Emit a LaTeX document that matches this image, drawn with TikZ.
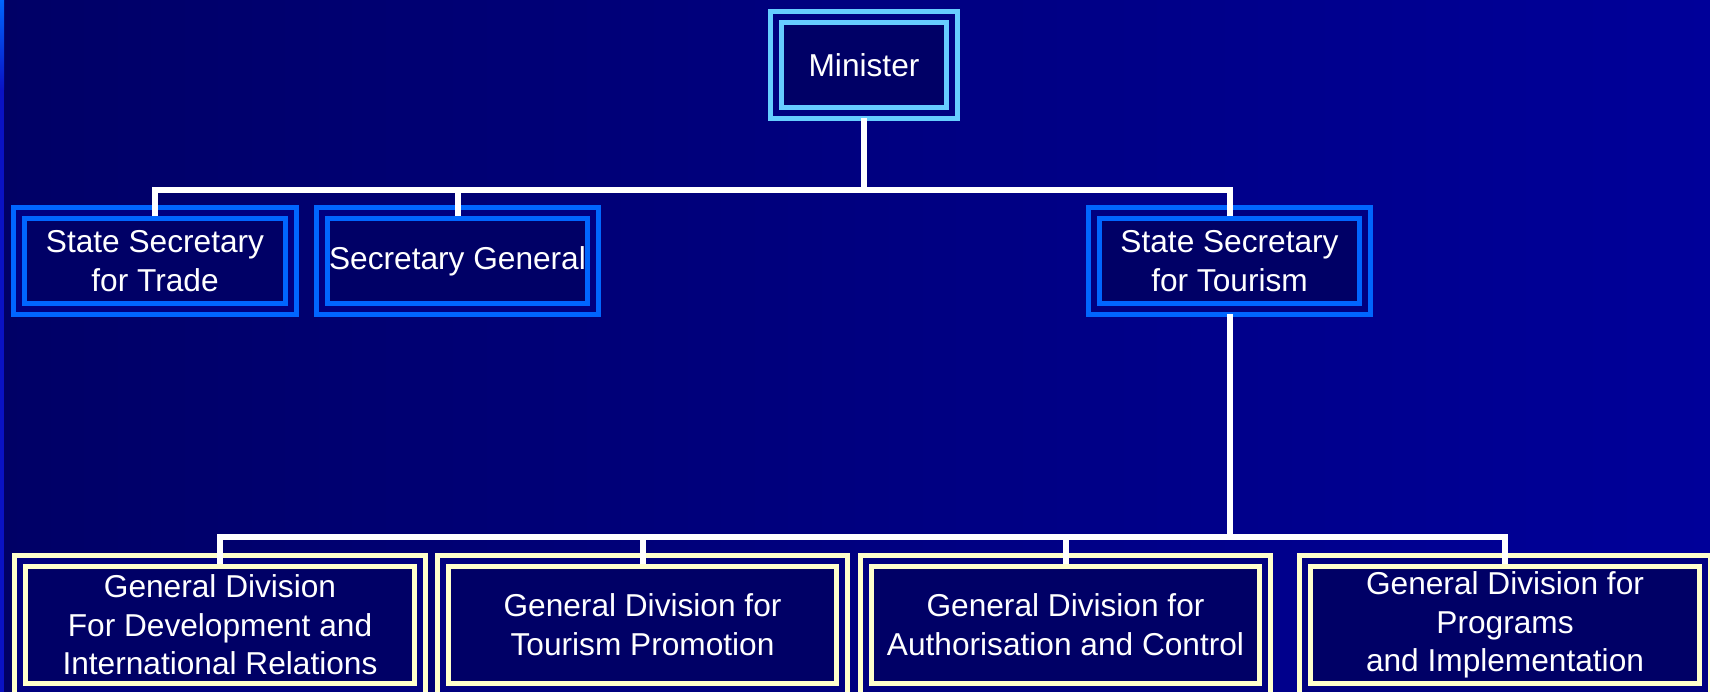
\documentclass[tikz,border=0pt]{standalone}
\usepackage{fontspec}
\setmainfont{Liberation Sans}
\definecolor{bgleft}{HTML}{000066}
\definecolor{bgright}{HTML}{000099}
\definecolor{boxfill}{HTML}{000066}
\definecolor{gapblue}{HTML}{000080}
\definecolor{skyline}{HTML}{66CCFF}
\definecolor{secline}{HTML}{0066FF}
\definecolor{divline}{HTML}{FFFFCC}
\definecolor{edgetop}{HTML}{0066FF}
\definecolor{edgelow}{HTML}{0A12C4}

\begin{document}
\begin{tikzpicture}[x=0.01cm, y=-0.01cm,
    unit/.style={draw, double=gapblue, line width=0.05cm, double distance=0.06cm,
      fill=boxfill, text=white, align=center, inner sep=0pt, outer sep=0.08cm,
      font=\fontsize{9}{11}\selectfont},
    ministerbox/.style={unit, draw=skyline, minimum width=1.75cm, minimum height=0.96cm},
    secbox/.style={unit, draw=secline, minimum width=2.71cm, minimum height=0.96cm},
    divbox/.style={unit, draw=divline, minimum width=3.99cm, minimum height=1.28cm},
    link/.style={draw=white, line width=0.06cm, line cap=rect},
    drop/.style={link, shorten >=-0.08cm}]
    \shade[left color=bgleft, right color=bgright] (0,0) rectangle (1710,692);
    \useasboundingbox (0,0) rectangle (1710,692);
    \shade[top color=edgetop, bottom color=edgelow] (0,0) rectangle (4,90);
    \fill[edgelow] (0,90) rectangle (4,692);

    \node[ministerbox] (minister) at (864,65) {Minister};
    \node[secbox] (trade) at (155,261) {State Secretary\\for Trade};
    \node[secbox] (secgen) at (457.5,261) {Secretary General};
    \node[secbox] (tourism) at (1229.5,261) {State Secretary\\for Tourism};
    \node[divbox] (devrel) at (220,625) {General Division\\For Development and\\International Relations};
    \node[divbox] (promo) at (642.5,625) {General Division for\\Tourism Promotion};
    \node[divbox] (control) at (1065.5,625) {General Division for\\Authorisation and Control};
    \node[divbox] (progs) at (1505,625) {General Division for\\Programs\\and Implementation};

    \coordinate (topbus) at (0,190);
    \coordinate (lowbus) at (0,537);
    \draw[link] (minister.south) -- (minister.south |- topbus);
    \draw[link] (trade.north |- topbus) -- (tourism.north |- topbus);
    \foreach \n in {trade,secgen,tourism}
        \draw[drop] (\n.north |- topbus) -- (\n.north);
    \draw[link] (tourism.south) -- (tourism.south |- lowbus);
    \draw[link] (devrel.north |- lowbus) -- (progs.north |- lowbus);
    \foreach \n in {devrel,promo,control,progs}
        \draw[drop] (\n.north |- lowbus) -- (\n.north);
\end{tikzpicture}
\end{document}
